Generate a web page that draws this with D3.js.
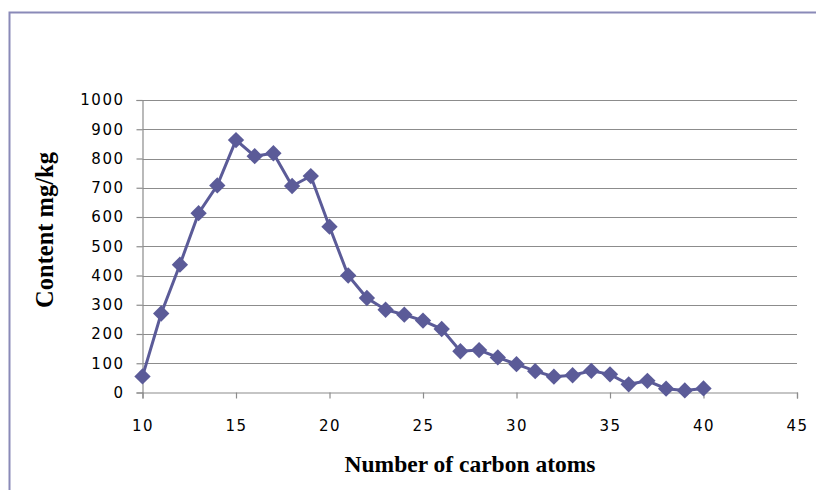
<!DOCTYPE html>
<html>
<head>
<meta charset="utf-8">
<script src="https://cdn.jsdelivr.net/npm/d3@7"></script>
<style>
    body { margin: 0; background: #fff; }
    svg { display: block; }
</style>
</head>
<body>
<div id="chart"></div>
<script>
    // carbon number vs content (mg/kg)
    var carbons = [10, 11, 12, 13, 14, 15, 16, 17, 18, 19, 20, 21, 22, 23, 24, 25,
        26, 27, 28, 29, 30, 31, 32, 33, 34, 35, 36, 37, 38, 39, 40];
    var contents = [55, 270, 437, 613, 708, 863, 808, 818, 706, 740, 567, 400, 323, 283, 266, 246,
        217, 141, 145, 120, 97, 73, 54, 59, 74, 62, 28, 40, 13, 7, 14];
    var xTicks = [10, 15, 20, 25, 30, 35, 40, 45];
    var yTicks = [0, 100, 200, 300, 400, 500, 600, 700, 800, 900, 1000];

    var width = 816, height = 490;
    var margin = {left: 142.5, right: 19, top: 100, bottom: 97.5};
    var lineColor = '#5b5b98';

    var svg = d3.select('#chart').append('svg')
        .attr('width', width)
        .attr('height', height);

    // outer chart frame
    svg.append('rect')
        .attr('x', 9.5)
        .attr('y', 12.5)
        .attr('width', 830)
        .attr('height', 500)
        .attr('fill', 'none')
        .attr('stroke', '#8a8ab8')
        .attr('stroke-width', 2);

    var x = d3.scaleLinear().domain([10, 45]).range([margin.left, width - margin.right]);
    var y = d3.scaleLinear().domain([0, 1000]).range([height - margin.bottom, margin.top]);

    // gridlines
    svg.append('g')
        .selectAll('line')
        .data(yTicks.slice(1))
        .enter().append('line')
        .attr('x1', x(10))
        .attr('x2', x(45))
        .attr('y1', function (d) { return Math.round(y(d)) + 0.5; })
        .attr('y2', function (d) { return Math.round(y(d)) + 0.5; })
        .attr('stroke', '#8c8c8c')
        .attr('stroke-width', 1.2);

    var yAxis = svg.append('g')
        .attr('transform', 'translate(' + x(10) + ',0)')
        .call(d3.axisLeft(y).tickValues(yTicks).tickSize(6).tickPadding(12).tickFormat(d3.format('d')));

    var xAxis = svg.append('g')
        .attr('transform', 'translate(0,' + y(0) + ')')
        .call(d3.axisBottom(x).tickValues(xTicks).tickSize(6).tickPadding(22).tickFormat(d3.format('d')));

    [yAxis, xAxis].forEach(function (ax) {
        ax.select('.domain').attr('stroke', '#8c8c8c').attr('stroke-width', 1.2);
        ax.selectAll('.tick line').attr('stroke', '#8c8c8c').attr('stroke-width', 1.2);
        ax.selectAll('.tick text')
            .attr('fill', '#000')
            .attr('letter-spacing', '1.5px')
            .style('font-family', 'DejaVu Sans, Verdana, sans-serif')
            .style('font-size', '15px');
    });

    var pts = carbons.map(function (c, i) { return [c, contents[i]]; });

    var line = d3.line()
        .x(function (d) { return x(d[0]); })
        .y(function (d) { return y(d[1]); });

    svg.append('path')
        .datum(pts)
        .attr('d', line)
        .attr('fill', 'none')
        .attr('stroke', lineColor)
        .attr('stroke-width', 3);

    svg.append('g')
        .selectAll('path')
        .data(pts)
        .enter().append('path')
        .attr('d', d3.symbol().type(d3.symbolDiamond2).size(170))
        .attr('transform', function (d) { return 'translate(' + x(d[0]) + ',' + y(d[1]) + ')'; })
        .attr('fill', lineColor);

    // axis titles
    svg.append('text')
        .attr('x', 470)
        .attr('y', 472)
        .attr('text-anchor', 'middle')
        .style('font-family', 'Liberation Serif, Times New Roman, serif')
        .style('font-weight', 'bold')
        .style('font-size', '23.5px')
        .text('Number of carbon atoms');

    svg.append('text')
        .attr('transform', 'translate(53,230) rotate(-90)')
        .attr('text-anchor', 'middle')
        .style('font-family', 'Liberation Serif, Times New Roman, serif')
        .style('font-weight', 'bold')
        .style('font-size', '24.5px')
        .text('Content mg/kg');
</script>
</body>
</html>
